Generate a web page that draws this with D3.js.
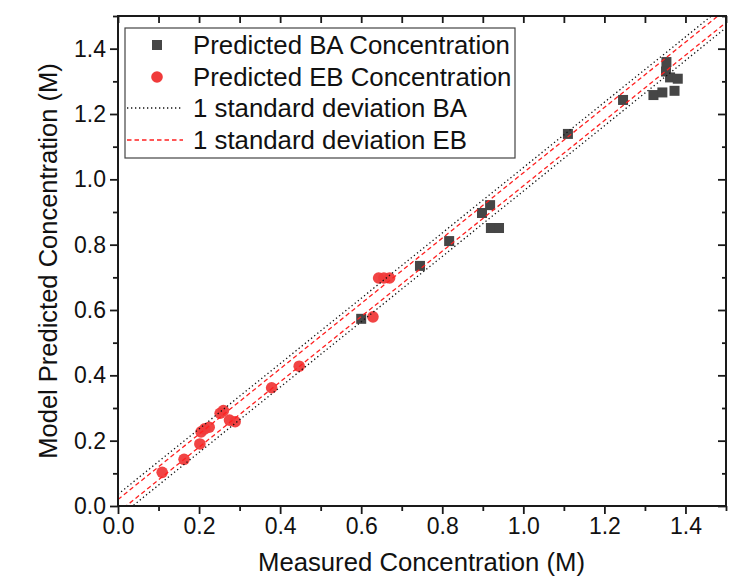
<!DOCTYPE html>
<html>
<head>
<meta charset="utf-8">
<script src="https://cdn.jsdelivr.net/npm/d3@7"></script>
<style>
  html, body { margin: 0; padding: 0; background: #fff; }
  svg { display: block; font-family: "Liberation Sans", Arial, sans-serif; }
</style>
</head>
<body>
<svg id="chart" width="754" height="579"></svg>
<script>
// ---- data ----
const baX = [0.600, 0.745, 0.817, 0.898, 0.918, 0.920, 0.940, 1.110, 1.246, 1.321, 1.343, 1.373, 1.353, 1.352, 1.362, 1.381];
const baY = [0.573, 0.735, 0.811, 0.897, 0.921, 0.851, 0.851, 1.139, 1.243, 1.258, 1.266, 1.271, 1.359, 1.330, 1.312, 1.308];
const ebX = [0.109, 0.163, 0.202, 0.205, 0.214, 0.225, 0.252, 0.260, 0.275, 0.289, 0.379, 0.447, 0.629, 0.643, 0.656, 0.670];
const ebY = [0.103, 0.143, 0.190, 0.227, 0.236, 0.241, 0.284, 0.292, 0.263, 0.258, 0.362, 0.428, 0.579, 0.698, 0.698, 0.698];
const baSD = 0.036;
const ebSD = 0.020;
const majorTicks = [0.0, 0.2, 0.4, 0.6, 0.8, 1.0, 1.2, 1.4];
const minorTicks = [0.1, 0.3, 0.5, 0.7, 0.9, 1.1, 1.3, 1.5];
const legendLabels = ["Predicted BA Concentration", "Predicted EB Concentration", "1 standard deviation BA", "1 standard deviation EB"];

// ---- layout ----
const L = 118, R = 726, T = 16, B = 506;
const x = d3.scaleLinear().domain([0, 1.5]).range([L, R]);
const y = d3.scaleLinear().domain([0, 1.5]).range([B, T]);
const svg = d3.select("#chart");
const axisColor = "#1a1a1a";
const baColor = "#464646";
const ebColor = "#f03a3a";

svg.append("defs").append("clipPath").attr("id", "clip")
  .append("rect").attr("x", L).attr("y", T).attr("width", R - L).attr("height", B - T);

// points
const pts = svg.append("g").attr("clip-path", "url(#clip)");
pts.selectAll("rect.ba").data(baX.map((v, i) => [v, baY[i]])).join("rect")
  .attr("class", "ba")
  .attr("x", d => x(d[0]) - 5).attr("y", d => y(d[1]) - 5)
  .attr("width", 10).attr("height", 10)
  .attr("fill", baColor);
pts.selectAll("circle.eb").data(ebX.map((v, i) => [v, ebY[i]])).join("circle")
  .attr("class", "eb")
  .attr("cx", d => x(d[0])).attr("cy", d => y(d[1])).attr("r", 5.8)
  .attr("fill", ebColor).attr("fill-opacity", 0.95);

// SD lines
const line = d3.line().x(d => x(d[0])).y(d => y(d[1]));
const lines = svg.append("g").attr("clip-path", "url(#clip)");
[baSD, -baSD].forEach(o => {
  lines.append("path").attr("d", line([[0, o], [1.5, 1.5 + o]]))
    .attr("fill", "none").attr("stroke", "#111").attr("stroke-width", 1.3)
    .attr("stroke-dasharray", "1.3,2.7");
});
[ebSD, -ebSD].forEach(o => {
  lines.append("path").attr("d", line([[0, o], [1.5, 1.5 + o]]))
    .attr("fill", "none").attr("stroke", "#ff2020").attr("stroke-width", 1.3)
    .attr("stroke-dasharray", "4.5,3");
});

// axes
function styleAxis(g) {
  g.select(".domain").remove();
  g.selectAll("line").attr("stroke", axisColor).attr("stroke-width", 1.8);
  g.selectAll("text").attr("fill", "#111").attr("font-size", 23)
    .attr("font-family", "'Liberation Sans', Arial, sans-serif");
}
const fmt = d3.format(".1f");
svg.append("g").attr("transform", `translate(0,${B})`)
  .call(d3.axisBottom(x).tickValues(majorTicks).tickFormat(fmt).tickSize(8).tickPadding(4))
  .call(styleAxis);
svg.append("g").attr("transform", `translate(0,${B})`)
  .call(d3.axisBottom(x).tickValues(minorTicks).tickFormat("").tickSize(5))
  .call(styleAxis);
svg.append("g").attr("transform", `translate(${L},0)`)
  .call(d3.axisLeft(y).tickValues(majorTicks).tickFormat(fmt).tickSize(8).tickPadding(4))
  .call(styleAxis);
svg.append("g").attr("transform", `translate(${L},0)`)
  .call(d3.axisLeft(y).tickValues(minorTicks).tickFormat("").tickSize(5))
  .call(styleAxis);
svg.append("g").attr("transform", `translate(0,${T})`)
  .call(d3.axisTop(x).tickValues(majorTicks.concat(minorTicks)).tickFormat("").tickSize(-7))
  .call(styleAxis);
svg.append("g").attr("transform", `translate(${R},0)`)
  .call(d3.axisRight(y).tickValues(majorTicks).tickFormat("").tickSize(-8))
  .call(styleAxis);
svg.append("g").attr("transform", `translate(${R},0)`)
  .call(d3.axisRight(y).tickValues(minorTicks).tickFormat("").tickSize(-4))
  .call(styleAxis);
svg.append("rect").attr("x", L).attr("y", T).attr("width", R - L).attr("height", B - T)
  .attr("fill", "none").attr("stroke", axisColor).attr("stroke-width", 2);

// axis titles
svg.append("text").attr("x", (L + R) / 2 - 0.5).attr("y", 571).attr("text-anchor", "middle")
  .attr("font-size", 25.7).attr("fill", "#111").text("Measured Concentration (M)");
svg.append("text").attr("transform", `translate(57,${(T + B) / 2}) rotate(-90)`)
  .attr("text-anchor", "middle").attr("font-size", 25.5).attr("fill", "#111")
  .text("Model Predicted Concentration (M)");

// legend
const lg = svg.append("g");
lg.append("rect").attr("x", 125).attr("y", 28).attr("width", 390).attr("height", 130)
  .attr("fill", "#fff").attr("stroke", "#444").attr("stroke-width", 1.2);
const rowY = [45, 77, 108, 140];
lg.append("rect").attr("x", 152).attr("y", rowY[0] - 5).attr("width", 10).attr("height", 10).attr("fill", baColor);
lg.append("circle").attr("cx", 157).attr("cy", rowY[1]).attr("r", 5.8).attr("fill", ebColor);
lg.append("line").attr("x1", 127).attr("x2", 183).attr("y1", rowY[2]).attr("y2", rowY[2])
  .attr("stroke", "#111").attr("stroke-width", 1.3).attr("stroke-dasharray", "1.3,2.7");
lg.append("line").attr("x1", 127).attr("x2", 183).attr("y1", rowY[3]).attr("y2", rowY[3])
  .attr("stroke", "#ff2020").attr("stroke-width", 1.3).attr("stroke-dasharray", "4.5,3");
lg.selectAll("text.lab").data(legendLabels).join("text").attr("class", "lab")
  .attr("x", 193).attr("y", (d, i) => rowY[i]).attr("dy", "0.36em")
  .attr("font-size", 25.8).attr("fill", "#111").text(d => d);
</script>
</body>
</html>
